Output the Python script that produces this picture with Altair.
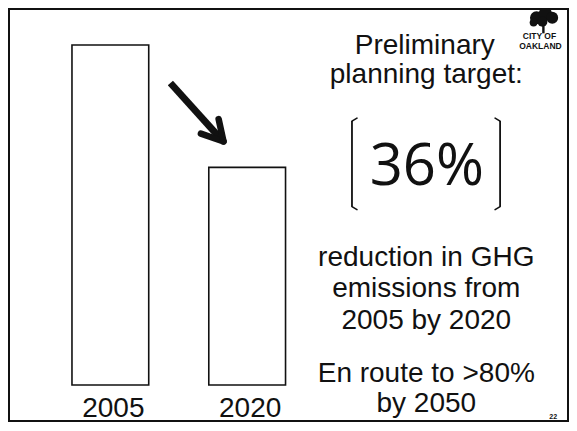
import altair as alt
import pandas as pd

# ---- data ----
years = ["2005", "2020"]
emissions = [100, 64]          # relative emissions (2005 = 100, 36% reduction)

title_lines = ["Preliminary", "planning target:"]
big_label = "36%"
body_lines = ["reduction in GHG", "emissions from", "2005 by 2020"]
foot_lines = ["En route to >80%", "by 2050"]
logo_lines = ["CITY OF", "OAKLAND"]
page_no = "22"

W, H = 561, 415
FONT = "Liberation Sans"


def px(x):
    return (x - 3) * 560 / 569


def py(y):
    return (y - 3) * 414 / 425


bars_df = pd.DataFrame({"year": years, "value": emissions})
one = pd.DataFrame({"a": [0]})

xscale = alt.Scale(domain=years, range=[px(68), px(285)], paddingInner=0.439, paddingOuter=0)
yscale = alt.Scale(domain=[0, 100], range=[py(390), py(41)])

bars = alt.Chart(bars_df).mark_bar(fill="white", stroke="#111", strokeWidth=1.6).encode(
    x=alt.X("year:N", scale=xscale, axis=None),
    y=alt.Y("value:Q", scale=yscale, axis=None),
)

year_labels = alt.Chart(bars_df).mark_text(
    font=FONT, fontSize=28, color="#111", baseline="alphabetic", align="center", dx=3
).encode(
    x=alt.X("year:N", scale=xscale, axis=None),
    y=alt.value(py(423)),
    text="year:N",
)


def rule(x1, y1, x2, y2, w=1.6, cap="butt"):
    return alt.Chart(one).mark_rule(color="#111", strokeWidth=w, strokeCap=cap).encode(
        x=alt.value(x1), y=alt.value(y1), x2=alt.value(x2), y2=alt.value(y2)
    )


def text(t, x, y, size, font=FONT, weight="normal"):
    return alt.Chart(one).mark_text(
        text=t, font=font, fontSize=size, fontWeight=weight, color="#111",
        baseline="alphabetic", align="center"
    ).encode(x=alt.value(x), y=alt.value(y))


layers = [bars, year_labels]

# frame
layers.append(
    alt.Chart(one).mark_rect(fill=None, stroke="#111", strokeWidth=2).encode(
        x=alt.value(1), x2=alt.value(560), y=alt.value(1), y2=alt.value(413)
    )
)

# arrow
layers += [
    rule(px(168), py(80), px(219), py(137), w=7),
    rule(px(199), py(132), px(222), py(140), w=6.5, cap="round"),
    rule(px(217), py(117), px(222), py(140), w=6.5, cap="round"),
]

# brackets
lx, rx = px(352.5), px(503)
ytop, ybot = py(116), py(210)
layers += [
    rule(lx, ytop + 3, lx, ybot - 3, w=1.8),
    rule(lx, ytop + 3, lx + 5, ytop, w=1.6, cap="round"),
    rule(lx, ybot - 3, lx + 5, ybot, w=1.6, cap="round"),
    rule(rx, ytop + 3, rx, ybot - 3, w=1.8),
    rule(rx, ytop + 3, rx - 5, ytop, w=1.6, cap="round"),
    rule(rx, ybot - 3, rx - 5, ybot, w=1.6, cap="round"),
]

# right text block
cx = px(428)
layers.append(text(title_lines[0], px(426.5), py(50), 28))
layers.append(text(title_lines[1], cx, py(80), 28))
layers.append(text(big_label, px(428.5), py(185), 58, font="Open Sans"))
for t, yb in zip(body_lines, [268, 300, 333]):
    layers.append(text(t, cx, py(yb), 28))
for t, yb in zip(foot_lines, [387, 418]):
    layers.append(text(t, cx, py(yb), 28))

# logo
canopy = [(540, 13, 170), (549, 9, 180), (556, 13, 140), (546, 17, 100), (537, 18, 60)]
for x, y, s in canopy:
    layers.append(
        alt.Chart(one).mark_point(filled=True, shape="circle", color="#111", size=s, opacity=1).encode(
            x=alt.value(px(x)), y=alt.value(py(y))
        )
    )
layers.append(rule(px(547), py(18), px(547), py(29), w=2.4))
layers.append(text(logo_lines[0], px(543), py(35), 8.5, weight="bold"))
layers.append(text(logo_lines[1], px(544), py(45), 8.5, weight="bold"))
layers.append(text(page_no, px(557), py(425), 7, weight="bold"))

chart = alt.layer(*layers).properties(
    width=W, height=H, autosize=alt.AutoSizeParams(type="none"), padding=0, background="white"
).configure_view(stroke=None)

chart.save("out.html", embed_options={"renderer": "svg", "actions": False})
